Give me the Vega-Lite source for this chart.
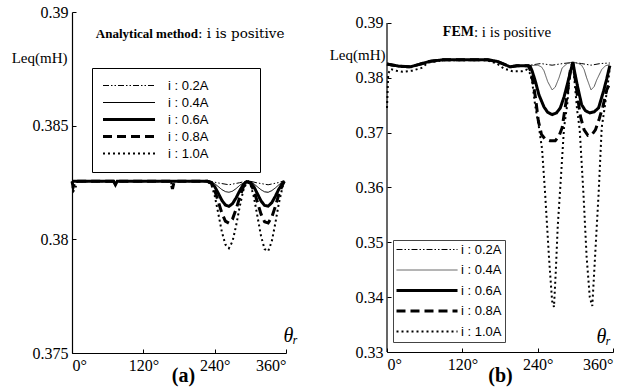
{
"$schema":"https://vega.github.io/schema/vega-lite/v6.json",
"padding":{"left":11,"top":4,"right":5,"bottom":5},
"spacing":30,
"config":{
 "view":{"stroke":null},
 "font":"Liberation Serif",
 "axis":{"grid":false,"domainColor":"#000","domainWidth":1.2,"tickColor":"#000","tickSize":-4,"labelPadding":8,"labelFont":"Liberation Serif","labelFontSize":16,"labelColor":"#000","titleFont":"Liberation Serif","titleColor":"#000","titleFontWeight":"normal"}
},
"datasets":{
"ana":[
{"theta":0,"current":"0.2A","L":0.38258},{"theta":60,"current":"0.2A","L":0.38258},{"theta":120,"current":"0.2A","L":0.38258},{"theta":228,"current":"0.2A","L":0.38258},{"theta":246,"current":"0.2A","L":0.38248},{"theta":264,"current":"0.2A","L":0.3824},{"theta":282,"current":"0.2A","L":0.38249},{"theta":296,"current":"0.2A","L":0.38258},{"theta":312,"current":"0.2A","L":0.38248},{"theta":330,"current":"0.2A","L":0.3824},{"theta":348,"current":"0.2A","L":0.3825},{"theta":357,"current":"0.2A","L":0.38258},
{"theta":0,"current":"0.4A","L":0.38255},{"theta":70,"current":"0.4A","L":0.38255},{"theta":73,"current":"0.4A","L":0.38245},{"theta":76,"current":"0.4A","L":0.38255},{"theta":228,"current":"0.4A","L":0.38255},
{"theta":234,"current":"0.4A","L":0.38253},{"theta":240,"current":"0.4A","L":0.38245},{"theta":246,"current":"0.4A","L":0.38232},{"theta":252,"current":"0.4A","L":0.38219},{"theta":258,"current":"0.4A","L":0.3821},{"theta":264,"current":"0.4A","L":0.38207},{"theta":270,"current":"0.4A","L":0.38212},{"theta":276,"current":"0.4A","L":0.38223},{"theta":282,"current":"0.4A","L":0.38237},{"theta":288,"current":"0.4A","L":0.38248},{"theta":294,"current":"0.4A","L":0.38255},{"theta":300,"current":"0.4A","L":0.38253},{"theta":306,"current":"0.4A","L":0.38244},{"theta":312,"current":"0.4A","L":0.38231},{"theta":318,"current":"0.4A","L":0.38218},{"theta":324,"current":"0.4A","L":0.38209},{"theta":330,"current":"0.4A","L":0.38207},{"theta":336,"current":"0.4A","L":0.38214},{"theta":342,"current":"0.4A","L":0.38226},{"theta":348,"current":"0.4A","L":0.3824},{"theta":354,"current":"0.4A","L":0.38251},{"theta":357,"current":"0.4A","L":0.38255},
{"theta":0,"current":"0.6A","L":0.38255},{"theta":70,"current":"0.6A","L":0.38255},{"theta":73,"current":"0.6A","L":0.3824},{"theta":76,"current":"0.6A","L":0.38255},{"theta":228,"current":"0.6A","L":0.38255},
{"theta":234,"current":"0.6A","L":0.38251},{"theta":240,"current":"0.6A","L":0.38232},{"theta":246,"current":"0.6A","L":0.38203},{"theta":252,"current":"0.6A","L":0.38172},{"theta":258,"current":"0.6A","L":0.38151},{"theta":264,"current":"0.6A","L":0.38145},{"theta":270,"current":"0.6A","L":0.38157},{"theta":276,"current":"0.6A","L":0.38182},{"theta":282,"current":"0.6A","L":0.38213},{"theta":288,"current":"0.6A","L":0.3824},{"theta":294,"current":"0.6A","L":0.38254},{"theta":300,"current":"0.6A","L":0.38251},{"theta":306,"current":"0.6A","L":0.38231},{"theta":312,"current":"0.6A","L":0.382},{"theta":318,"current":"0.6A","L":0.38169},{"theta":324,"current":"0.6A","L":0.38149},{"theta":330,"current":"0.6A","L":0.38146},{"theta":336,"current":"0.6A","L":0.38161},{"theta":342,"current":"0.6A","L":0.38189},{"theta":348,"current":"0.6A","L":0.38221},{"theta":354,"current":"0.6A","L":0.38246},{"theta":357,"current":"0.6A","L":0.38255},
{"theta":0,"current":"0.8A","L":0.38255},{"theta":2,"current":"0.8A","L":0.3823},{"theta":5,"current":"0.8A","L":0.38255},{"theta":166,"current":"0.8A","L":0.38255},{"theta":169,"current":"0.8A","L":0.38222},{"theta":172,"current":"0.8A","L":0.38255},{"theta":228,"current":"0.8A","L":0.38255},
{"theta":234,"current":"0.8A","L":0.38248},{"theta":240,"current":"0.8A","L":0.38216},{"theta":246,"current":"0.8A","L":0.38167},{"theta":252,"current":"0.8A","L":0.38116},{"theta":258,"current":"0.8A","L":0.3808},{"theta":264,"current":"0.8A","L":0.38071},{"theta":270,"current":"0.8A","L":0.38089},{"theta":276,"current":"0.8A","L":0.38132},{"theta":282,"current":"0.8A","L":0.38184},{"theta":288,"current":"0.8A","L":0.38229},{"theta":294,"current":"0.8A","L":0.38253},{"theta":300,"current":"0.8A","L":0.38248},{"theta":306,"current":"0.8A","L":0.38214},{"theta":312,"current":"0.8A","L":0.38163},{"theta":318,"current":"0.8A","L":0.38111},{"theta":324,"current":"0.8A","L":0.38077},{"theta":330,"current":"0.8A","L":0.38072},{"theta":336,"current":"0.8A","L":0.38097},{"theta":342,"current":"0.8A","L":0.38144},{"theta":348,"current":"0.8A","L":0.38198},{"theta":354,"current":"0.8A","L":0.38239},{"theta":357,"current":"0.8A","L":0.38255},
{"theta":0,"current":"1.0A","L":0.38255},{"theta":2,"current":"1.0A","L":0.3821},{"theta":5,"current":"1.0A","L":0.3822},{"theta":9,"current":"1.0A","L":0.38255},{"theta":70,"current":"1.0A","L":0.38255},{"theta":73,"current":"1.0A","L":0.3824},{"theta":76,"current":"1.0A","L":0.38255},{"theta":166,"current":"1.0A","L":0.38255},{"theta":169,"current":"1.0A","L":0.3823},{"theta":172,"current":"1.0A","L":0.38255},{"theta":222,"current":"1.0A","L":0.38255},{"theta":228,"current":"1.0A","L":0.38252},
{"theta":234,"current":"1.0A","L":0.38244},{"theta":240,"current":"1.0A","L":0.38193},{"theta":246,"current":"1.0A","L":0.38115},{"theta":252,"current":"1.0A","L":0.38034},{"theta":258,"current":"1.0A","L":0.37977},{"theta":264,"current":"1.0A","L":0.37961},{"theta":270,"current":"1.0A","L":0.37991},{"theta":276,"current":"1.0A","L":0.38059},{"theta":282,"current":"1.0A","L":0.38142},{"theta":288,"current":"1.0A","L":0.38214},{"theta":294,"current":"1.0A","L":0.38252},{"theta":300,"current":"1.0A","L":0.38243},{"theta":306,"current":"1.0A","L":0.38186},{"theta":312,"current":"1.0A","L":0.381},{"theta":318,"current":"1.0A","L":0.38014},{"theta":324,"current":"1.0A","L":0.37957},{"theta":330,"current":"1.0A","L":0.37948},{"theta":336,"current":"1.0A","L":0.3799},{"theta":342,"current":"1.0A","L":0.3807},{"theta":348,"current":"1.0A","L":0.38159},{"theta":354,"current":"1.0A","L":0.38229},{"theta":357,"current":"1.0A","L":0.38255}
],
"fem":[
{"theta":0,"current":"0.2A","L":0.3825},{"theta":10,"current":"0.2A","L":0.3823},{"theta":20,"current":"0.2A","L":0.3821},{"theta":37,"current":"0.2A","L":0.382},{"theta":50,"current":"0.2A","L":0.3824},{"theta":68,"current":"0.2A","L":0.383},{"theta":90,"current":"0.2A","L":0.3833},{"theta":160,"current":"0.2A","L":0.3833},{"theta":175,"current":"0.2A","L":0.383},{"theta":186,"current":"0.2A","L":0.3825},{"theta":196,"current":"0.2A","L":0.382},{"theta":207,"current":"0.2A","L":0.3822},{"theta":225,"current":"0.2A","L":0.3822},
{"theta":228,"current":"0.2A","L":0.3823},{"theta":245,"current":"0.2A","L":0.3826},{"theta":263,"current":"0.2A","L":0.3823},{"theta":280,"current":"0.2A","L":0.3826},{"theta":296,"current":"0.2A","L":0.3828},{"theta":310,"current":"0.2A","L":0.3826},{"theta":325,"current":"0.2A","L":0.3823},{"theta":340,"current":"0.2A","L":0.3826},{"theta":355,"current":"0.2A","L":0.3827},
{"theta":0,"current":"0.4A","L":0.3825},{"theta":10,"current":"0.4A","L":0.3823},{"theta":20,"current":"0.4A","L":0.3821},{"theta":37,"current":"0.4A","L":0.382},{"theta":50,"current":"0.4A","L":0.3824},{"theta":68,"current":"0.4A","L":0.383},{"theta":90,"current":"0.4A","L":0.3833},{"theta":160,"current":"0.4A","L":0.3833},{"theta":175,"current":"0.4A","L":0.383},{"theta":186,"current":"0.4A","L":0.3825},{"theta":196,"current":"0.4A","L":0.382},{"theta":207,"current":"0.4A","L":0.3822},{"theta":225,"current":"0.4A","L":0.3822},
{"theta":228,"current":"0.4A","L":0.3822},{"theta":240,"current":"0.4A","L":0.3823},{"theta":246,"current":"0.4A","L":0.382},{"theta":250,"current":"0.4A","L":0.3813},{"theta":256,"current":"0.4A","L":0.3793},{"theta":263,"current":"0.4A","L":0.3778},{"theta":268,"current":"0.4A","L":0.3783},{"theta":274,"current":"0.4A","L":0.38},{"theta":279,"current":"0.4A","L":0.3818},{"theta":287,"current":"0.4A","L":0.3826},{"theta":296,"current":"0.4A","L":0.3829},{"theta":305,"current":"0.4A","L":0.3826},{"theta":310,"current":"0.4A","L":0.3823},{"theta":314,"current":"0.4A","L":0.3815},{"theta":318,"current":"0.4A","L":0.38},{"theta":325,"current":"0.4A","L":0.3778},{"theta":330,"current":"0.4A","L":0.3784},{"theta":334,"current":"0.4A","L":0.3796},{"theta":342,"current":"0.4A","L":0.3815},{"theta":348,"current":"0.4A","L":0.3822},{"theta":355,"current":"0.4A","L":0.3824},
{"theta":0,"current":"0.6A","L":0.3825},{"theta":10,"current":"0.6A","L":0.3823},{"theta":20,"current":"0.6A","L":0.3821},{"theta":37,"current":"0.6A","L":0.382},{"theta":50,"current":"0.6A","L":0.3824},{"theta":68,"current":"0.6A","L":0.383},{"theta":90,"current":"0.6A","L":0.3833},{"theta":160,"current":"0.6A","L":0.3833},{"theta":175,"current":"0.6A","L":0.383},{"theta":186,"current":"0.6A","L":0.3825},{"theta":196,"current":"0.6A","L":0.382},{"theta":207,"current":"0.6A","L":0.3822},{"theta":225,"current":"0.6A","L":0.3822},
{"theta":228,"current":"0.6A","L":0.3821},{"theta":231,"current":"0.6A","L":0.3813},{"theta":236,"current":"0.6A","L":0.3795},{"theta":242,"current":"0.6A","L":0.3769},{"theta":250,"current":"0.6A","L":0.3747},{"theta":256,"current":"0.6A","L":0.3737},{"theta":263,"current":"0.6A","L":0.3733},{"theta":270,"current":"0.6A","L":0.3736},{"theta":276,"current":"0.6A","L":0.3745},{"theta":282,"current":"0.6A","L":0.3765},{"theta":287,"current":"0.6A","L":0.3787},{"theta":292,"current":"0.6A","L":0.381},{"theta":296,"current":"0.6A","L":0.3828},{"theta":299,"current":"0.6A","L":0.381},{"theta":303,"current":"0.6A","L":0.3787},{"theta":310,"current":"0.6A","L":0.3751},{"theta":316,"current":"0.6A","L":0.374},{"theta":323,"current":"0.6A","L":0.3736},{"theta":330,"current":"0.6A","L":0.3738},{"theta":337,"current":"0.6A","L":0.3745},{"theta":345,"current":"0.6A","L":0.3776},{"theta":350,"current":"0.6A","L":0.3798},{"theta":353,"current":"0.6A","L":0.3813},{"theta":355,"current":"0.6A","L":0.3822},
{"theta":0,"current":"0.8A","L":0.3825},{"theta":10,"current":"0.8A","L":0.3823},{"theta":20,"current":"0.8A","L":0.3821},{"theta":37,"current":"0.8A","L":0.382},{"theta":50,"current":"0.8A","L":0.3824},{"theta":68,"current":"0.8A","L":0.383},{"theta":90,"current":"0.8A","L":0.3833},{"theta":160,"current":"0.8A","L":0.3833},{"theta":175,"current":"0.8A","L":0.383},{"theta":186,"current":"0.8A","L":0.3825},{"theta":196,"current":"0.8A","L":0.382},{"theta":207,"current":"0.8A","L":0.3822},{"theta":225,"current":"0.8A","L":0.3822},
{"theta":229,"current":"0.8A","L":0.3812},{"theta":233,"current":"0.8A","L":0.379},{"theta":237,"current":"0.8A","L":0.376},{"theta":241,"current":"0.8A","L":0.3722},{"theta":246,"current":"0.8A","L":0.3697},{"theta":252,"current":"0.8A","L":0.3688},{"theta":260,"current":"0.8A","L":0.3685},{"theta":268,"current":"0.8A","L":0.3685},{"theta":274,"current":"0.8A","L":0.3694},{"theta":279,"current":"0.8A","L":0.3709},{"theta":283,"current":"0.8A","L":0.374},{"theta":287,"current":"0.8A","L":0.3769},{"theta":292,"current":"0.8A","L":0.3813},{"theta":296,"current":"0.8A","L":0.3828},{"theta":299,"current":"0.8A","L":0.3805},{"theta":303,"current":"0.8A","L":0.377},{"theta":308,"current":"0.8A","L":0.373},{"theta":314,"current":"0.8A","L":0.3705},{"theta":320,"current":"0.8A","L":0.3695},{"theta":326,"current":"0.8A","L":0.3696},{"theta":332,"current":"0.8A","L":0.3705},{"theta":338,"current":"0.8A","L":0.3725},{"theta":344,"current":"0.8A","L":0.3748},{"theta":350,"current":"0.8A","L":0.3778},{"theta":355,"current":"0.8A","L":0.379},
{"theta":0,"current":"1.0A","L":0.3745},{"theta":2,"current":"1.0A","L":0.3808},{"theta":6,"current":"1.0A","L":0.3816},{"theta":15,"current":"1.0A","L":0.3813},{"theta":25,"current":"1.0A","L":0.3811},{"theta":40,"current":"1.0A","L":0.3813},{"theta":55,"current":"1.0A","L":0.3818},{"theta":66,"current":"1.0A","L":0.3828},{"theta":90,"current":"1.0A","L":0.3832},{"theta":160,"current":"1.0A","L":0.3832},{"theta":175,"current":"1.0A","L":0.3826},{"theta":186,"current":"1.0A","L":0.3817},{"theta":200,"current":"1.0A","L":0.3812},{"theta":215,"current":"1.0A","L":0.3812},{"theta":223,"current":"1.0A","L":0.3815},{"theta":227,"current":"1.0A","L":0.381},
{"theta":231,"current":"1.0A","L":0.3795},{"theta":236,"current":"1.0A","L":0.375},{"theta":242,"current":"1.0A","L":0.371},{"theta":247,"current":"1.0A","L":0.367},{"theta":252,"current":"1.0A","L":0.3587},{"theta":258,"current":"1.0A","L":0.3473},{"theta":263,"current":"1.0A","L":0.3393},{"theta":266,"current":"1.0A","L":0.3382},{"theta":269,"current":"1.0A","L":0.345},{"theta":272,"current":"1.0A","L":0.353},{"theta":276,"current":"1.0A","L":0.36},{"theta":282,"current":"1.0A","L":0.3709},{"theta":287,"current":"1.0A","L":0.375},{"theta":291,"current":"1.0A","L":0.3805},{"theta":296,"current":"1.0A","L":0.3827},{"theta":299,"current":"1.0A","L":0.379},{"theta":303,"current":"1.0A","L":0.374},{"theta":307,"current":"1.0A","L":0.3705},{"theta":313,"current":"1.0A","L":0.3587},{"theta":318,"current":"1.0A","L":0.3473},{"theta":323,"current":"1.0A","L":0.34},{"theta":327,"current":"1.0A","L":0.3384},{"theta":331,"current":"1.0A","L":0.3465},{"theta":337,"current":"1.0A","L":0.3587},{"theta":342,"current":"1.0A","L":0.3709},{"theta":347,"current":"1.0A","L":0.3748},{"theta":353,"current":"1.0A","L":0.38},{"theta":355,"current":"1.0A","L":0.3818}
]
},
"hconcat":[
{
 "width":214,"height":341,
 "layer":[
  {"data":{"name":"ana"},
   "mark":{"type":"line","color":"black"},
   "encoding":{
    "x":{"field":"theta","type":"quantitative","scale":{"domain":[0,360],"nice":false},"axis":{"values":[0,120,240,360],"labelExpr":"datum.value + '°'","title":"(a)","titleFontSize":20,"titleFontWeight":"bold","titleX":111,"titleY":22,"titleBaseline":"middle","titleAlign":"center"}},
    "y":{"field":"L","type":"quantitative","scale":{"domain":[0.375,0.39],"nice":false,"zero":false},"axis":{"values":[0.375,0.38,0.385,0.39],"format":"~g","title":"Leq(mH)","titleAngle":0,"titleAlign":"right","titleBaseline":"middle","titleX":-5,"titleY":45,"titleFontSize":15}},
    "strokeDash":{"field":"current","type":"nominal","scale":{"domain":["0.2A","0.4A","0.6A","0.8A","1.0A"],"range":[[6,2,1.5,2,1.5,2],[1,0],[1,0],[9,5],[2,3]]},
     "legend":{"orient":"none","legendX":20,"legendY":56,"title":null,"symbolType":"M-1,0H7","symbolSize":169,"symbolStrokeColor":"black","labelExpr":"'i : ' + datum.label + '\u00a0\u00a0\u00a0\u00a0\u00a0\u00a0\u00a0\u00a0\u00a0\u00a0\u00a0\u200b'","labelFont":"Liberation Sans","labelFontSize":13,"labelColor":"black","labelOffset":52,"rowPadding":3,"padding":11,"strokeColor":"black","fillColor":"white",
      "encode":{"symbols":{"update":{"strokeWidth":{"signal":"datum.value==='0.6A'||datum.value==='0.8A' ? 3 : datum.value==='1.0A' ? 2 : 1"}}}}}},
    "strokeWidth":{"condition":[{"test":"datum.current==='0.6A'||datum.current==='0.8A'","value":3},{"test":"datum.current==='1.0A'","value":2}],"value":1}
   }},
  {"data":{"values":[{"s":"Analytical method"}]},
   "mark":{"type":"text","align":"right","baseline":"middle","fontWeight":"bold","fontSize":13,"font":"Liberation Serif","color":"black"},
   "encoding":{"x":{"datum":212,"type":"quantitative"},"y":{"datum":0.38903,"type":"quantitative"},"text":{"field":"s"}}},
  {"data":{"values":[{"s":": i is positive"}]},
   "mark":{"type":"text","align":"left","baseline":"middle","fontSize":13.5,"font":"DejaVu Serif","color":"black"},
   "encoding":{"x":{"datum":212,"type":"quantitative"},"y":{"datum":0.38903,"type":"quantitative"},"text":{"field":"s"}}},
  {"data":{"values":[{"s":"θᵣ"}]},
   "mark":{"type":"text","align":"center","baseline":"middle","fontSize":20,"fontStyle":"italic","font":"Liberation Serif","color":"black"},
   "encoding":{"x":{"datum":368,"type":"quantitative"},"y":{"datum":0.37573,"type":"quantitative"},"text":{"field":"s"}}}
 ]
},
{
 "width":226,"height":340,
 "layer":[
  {"data":{"name":"fem"},
   "mark":{"type":"line"},
   "encoding":{
    "x":{"field":"theta","type":"quantitative","scale":{"domain":[0,360],"nice":false},"axis":{"values":[0,120,240,360],"labelExpr":"datum.value + '°'","title":"(b)","titleFontSize":20,"titleFontWeight":"bold","titleX":113,"titleY":23,"titleBaseline":"middle","titleAlign":"center"}},
    "y":{"field":"L","type":"quantitative","scale":{"domain":[0.33,0.392],"nice":false,"zero":false},"axis":{"values":[0.33,0.34,0.35,0.36,0.37,0.38,0.39],"format":"~g","domain":false,"title":"Leq(mH)","titleAngle":0,"titleAlign":"right","titleBaseline":"middle","titleX":-2,"titleY":42,"titleFontSize":15}},
    "strokeDash":{"field":"current","type":"nominal","scale":{"domain":["0.2A","0.4A","0.6A","0.8A","1.0A"],"range":[[6,2,1.5,2,1.5,2],[1,0],[1,0],[9,5],[2,3]]},
     "legend":{"orient":"none","legendX":6,"legendY":228,"title":null,"symbolType":"M-1,0H9.17","symbolSize":144,"symbolStrokeColor":"black","labelExpr":"'i : ' + datum.label + '\u00a0\u00a0'","labelFont":"Liberation Sans","labelFontSize":13,"labelColor":"black","labelOffset":52,"rowPadding":6.5,"padding":3,"strokeColor":"#444","fillColor":"white",
      "encode":{"symbols":{"update":{"strokeWidth":{"signal":"datum.value==='0.6A'||datum.value==='0.8A' ? 3 : datum.value==='1.0A' ? 2 : 1"},"stroke":{"signal":"datum.value==='0.4A' ? '#555' : 'black'"}}}}}},
    "stroke":{"condition":{"test":"datum.current==='0.4A'","value":"#555"},"value":"black"},
    "strokeWidth":{"condition":[{"test":"datum.current==='0.6A'||datum.current==='0.8A'","value":3},{"test":"datum.current==='1.0A'","value":2}],"value":1}
   }},
  {"data":{"values":[{"s":"y axis line"}]},
   "mark":{"type":"rule","color":"black","strokeWidth":1.2},
   "encoding":{"x":{"datum":0,"type":"quantitative"},"y":{"datum":0.33,"type":"quantitative"},"y2":{"datum":0.39}}},
  {"data":{"values":[{"s":"FEM"}]},
   "mark":{"type":"text","align":"right","baseline":"middle","fontWeight":"bold","fontSize":14,"font":"Liberation Serif","color":"black"},
   "encoding":{"x":{"datum":138.5,"type":"quantitative"},"y":{"datum":0.38836,"type":"quantitative"},"text":{"field":"s"}}},
  {"data":{"values":[{"s":": i is positive"}]},
   "mark":{"type":"text","align":"left","baseline":"middle","fontSize":15,"font":"Liberation Serif","color":"black"},
   "encoding":{"x":{"datum":138.5,"type":"quantitative"},"y":{"datum":0.38836,"type":"quantitative"},"text":{"field":"s"}}},
  {"data":{"values":[{"s":"θᵣ"}]},
   "mark":{"type":"text","align":"center","baseline":"middle","fontSize":20,"fontStyle":"italic","font":"Liberation Serif","color":"black"},
   "encoding":{"x":{"datum":345.5,"type":"quantitative"},"y":{"datum":0.33274,"type":"quantitative"},"text":{"field":"s"}}}
 ]
}
],
"resolve":{"scale":{"strokeDash":"independent"},"legend":{"strokeDash":"independent"}}
}
